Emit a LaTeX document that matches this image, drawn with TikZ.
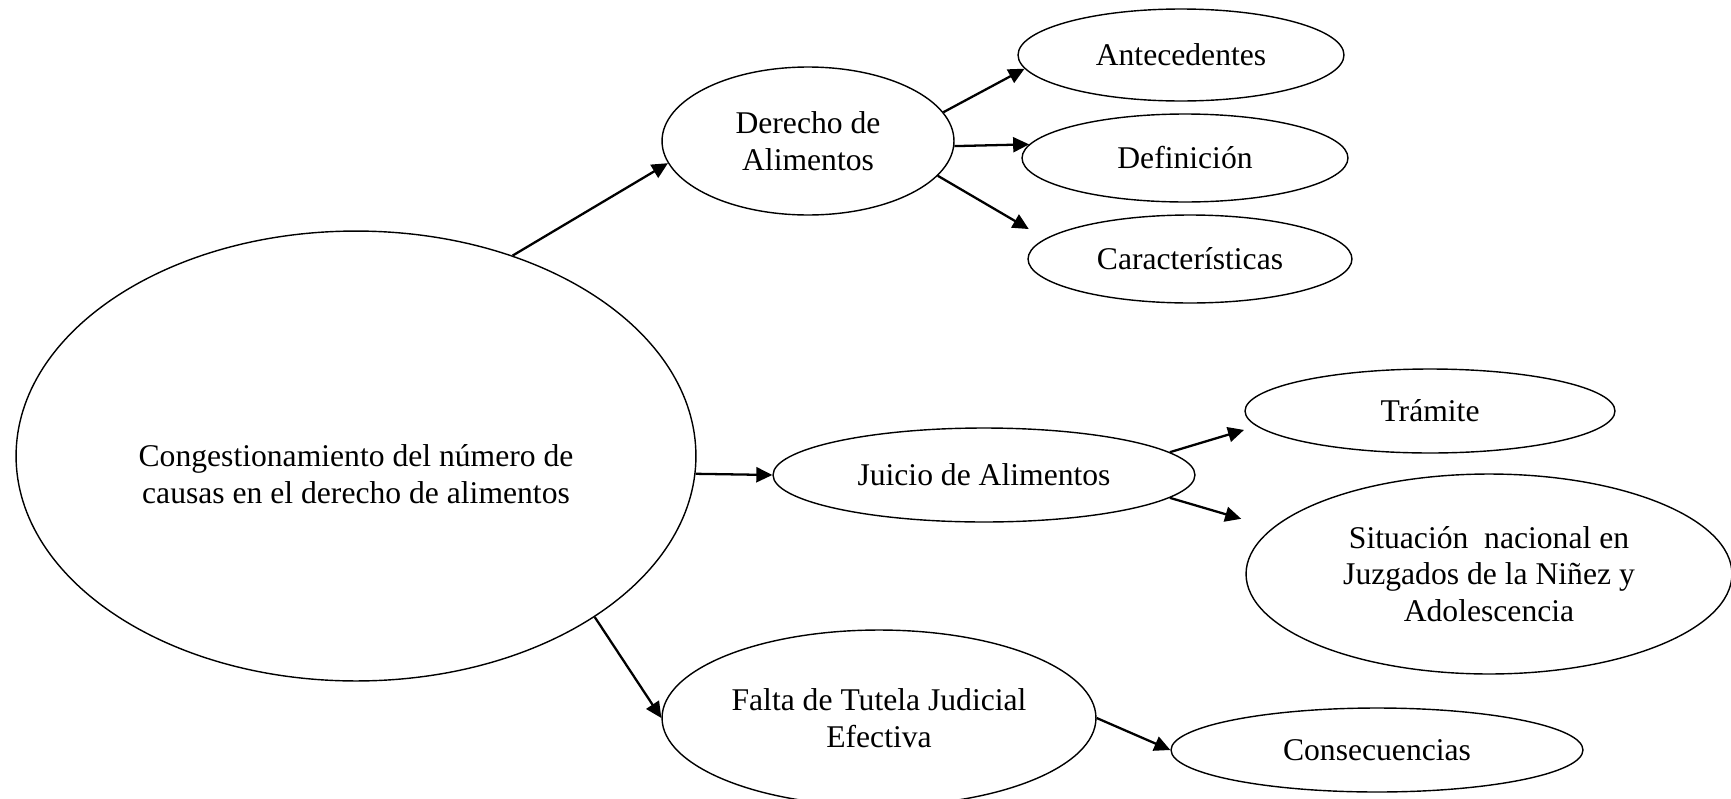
\documentclass[tikz,border=0pt]{standalone}
\usepackage{fontspec}
\setmainfont{Liberation Serif}
\usepackage{tikz}
\usetikzlibrary{arrows.meta,shapes.geometric,positioning}
\tikzstyle{arrow} = [line width=1.3pt,-{Triangle[length=0.32cm,width=0.3cm]}]
\tikzstyle{topicbox} = [ellipse, draw, line width=0.8pt, inner sep=0pt, align=center, font=\fontsize{18}{20.7}\selectfont]

\begin{document}
\begin{tikzpicture}[x=0.02cm, y=-0.02cm]
\useasboundingbox (0,0) rectangle (1731,798);
% Main topic
\node[topicbox, minimum width=13.6cm, minimum height=9cm] (main) at (356,456) {\rule{0pt}{1.16cm}Congestionamiento del número de\\causas en el derecho de alimentos};

% First branch
\node[topicbox, minimum width=5.84cm, minimum height=2.96cm] (derecho) at (808,141) {Derecho de\\Alimentos};
\node[topicbox, minimum width=6.52cm, minimum height=1.84cm] (antec) at (1181,55) {Antecedentes};
\node[topicbox, minimum width=6.52cm, minimum height=1.76cm] (defin) at (1185,158) {Definición};
\node[topicbox, minimum width=6.48cm, minimum height=1.76cm] (caract) at (1190,259) {Características};

% Second branch
\node[topicbox, minimum width=8.44cm, minimum height=1.88cm] (juicio) at (984,475) {Juicio de Alimentos};
\node[topicbox, minimum width=7.4cm, minimum height=1.68cm] (tramite) at (1430,411) {Trámite};
\node[topicbox, minimum width=9.72cm, minimum height=4cm] (situacion) at (1489,574) {Situación~ nacional en\\Juzgados de la Niñez y\\Adolescencia};

% Third branch
\node[topicbox, minimum width=8.68cm, minimum height=3.52cm] (falta) at (879,718) {Falta de Tutela Judicial\\Efectiva};
\node[topicbox, minimum width=8.24cm, minimum height=1.68cm] (consec) at (1377,750) {Consecuencias};

% Arrows
\draw[arrow] (main.52) -- (derecho.189);
\draw[arrow] (derecho.12) -- (antec.185);
\draw[arrow] (derecho.-2) -- (defin.175);
\draw[arrow, shorten >=0.38cm] (derecho.-15) -- (caract.172);
\draw[arrow] (main.-3) -- (juicio.west);
\draw[arrow, shorten >=0.26cm] (juicio.7) -- (tramite.185);
\draw[arrow, shorten >=0.65cm] (juicio.-7) -- (situacion.168);
\draw[arrow] (main.-34) -- (falta.west);
\draw[arrow] (falta.east) -- (consec.west);
\end{tikzpicture}
\end{document}
